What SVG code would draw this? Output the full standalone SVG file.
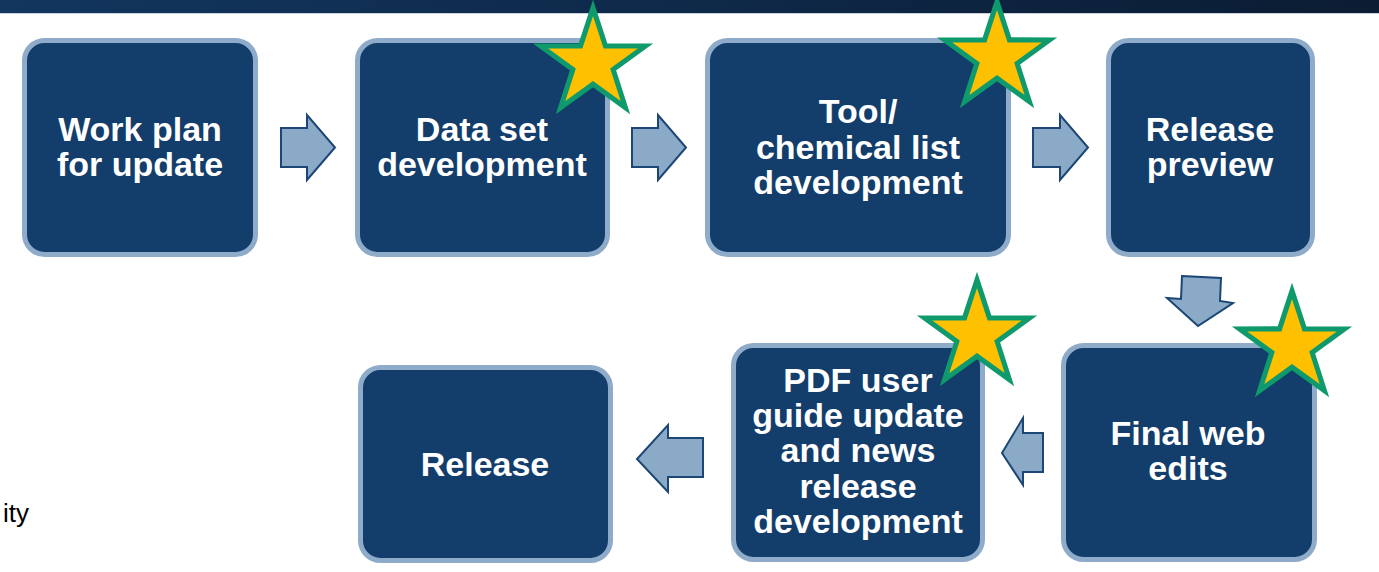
<svg xmlns="http://www.w3.org/2000/svg" width="1379" height="572" viewBox="0 0 1379 572">
<defs>
<linearGradient id="hdr" x1="0" y1="0" x2="1" y2="0">
<stop offset="0" stop-color="#12365f"/>
<stop offset="1" stop-color="#0b1c33"/>
</linearGradient>
<path id="star" d="M0,-52 L11.76,-16.18 L49.45,-16.07 L19.02,6.18 L30.56,42.07 L0,20 L-30.56,42.07 L-19.02,6.18 L-49.45,-16.07 L-11.76,-16.18 Z"/>
</defs>
<style>
.box{fill:#133d6b;stroke:#8eabc9;stroke-width:5}
.lbl{fill:#ffffff;font-family:"Liberation Sans",Arial,sans-serif;font-weight:bold;font-size:34px;text-anchor:middle}
.arr{fill:#8aaac8;stroke:#1c4675;stroke-width:2;stroke-linejoin:miter}
.star{fill:#ffc000;stroke:#0e9a6c;stroke-width:4.8;stroke-miterlimit:10}
</style>
<rect x="0" y="0" width="1379" height="13" fill="url(#hdr)"/>
<rect x="0" y="13" width="1379" height="1" fill="#c9d2dc"/>
<text x="3" y="522" font-family="Liberation Sans, Arial, sans-serif" font-size="26" fill="#000000">ity</text>

<g id="connectors">
<polygon class="arr" points="281,128 307,128 307,115 335,147.5 307,180 307,167 281,167"/>
<polygon class="arr" points="632,128 658,128 658,115 686,147.5 658,180 658,167 632,167"/>
<polygon class="arr" points="1033,128 1060,128 1060,115 1088,147.5 1060,180 1060,167 1033,167"/>
<polygon class="arr" points="1182,276 1221,278 1220,301 1233,303 1198,326 1167,298 1181,299"/>
<polygon class="arr" points="1043,433 1023,433 1023,418 1002,453 1023,485 1023,472 1043,472"/>
<polygon class="arr" points="703,438 668,438 668,425 637,459 668,492 668,477 703,477"/>
</g>

<g id="node-work-plan">
<rect class="box" x="24.5" y="40.5" width="231" height="214" rx="20"/>
<text class="lbl" x="140" y="141">Work plan</text>
<text class="lbl" x="140" y="176">for update</text>
</g>
<g id="node-data-set">
<rect class="box" x="357.5" y="40.5" width="250" height="214" rx="20"/>
<text class="lbl" x="482" y="141">Data set</text>
<text class="lbl" x="482" y="176">development</text>
</g>
<g id="node-tool">
<rect class="box" x="707.5" y="40.5" width="301" height="214" rx="20"/>
<text class="lbl" x="858" y="123">Tool/</text>
<text class="lbl" x="858" y="159">chemical list</text>
<text class="lbl" x="858" y="194">development</text>
</g>
<g id="node-release-preview">
<rect class="box" x="1108.5" y="40.5" width="204" height="214" rx="20"/>
<text class="lbl" x="1210" y="141">Release</text>
<text class="lbl" x="1210" y="176">preview</text>
</g>
<g id="node-final-web">
<rect class="box" x="1063.5" y="345.5" width="251" height="214" rx="20"/>
<text class="lbl" x="1188" y="445">Final web</text>
<text class="lbl" x="1188" y="480">edits</text>
</g>
<g id="node-pdf">
<rect class="box" x="733.5" y="345.5" width="249" height="214" rx="20"/>
<text class="lbl" x="858" y="392">PDF user</text>
<text class="lbl" x="858" y="427">guide update</text>
<text class="lbl" x="858" y="462">and news</text>
<text class="lbl" x="858" y="498">release</text>
<text class="lbl" x="858" y="533">development</text>
</g>
<g id="node-release">
<rect class="box" x="360.5" y="367.5" width="250" height="193" rx="20"/>
<text class="lbl" x="485" y="476">Release</text>
</g>

<g id="stars">
<use href="#star" class="star" transform="translate(593,63) scale(1.06)"/>
<use href="#star" class="star" transform="translate(997,57) scale(1.06)"/>
<use href="#star" class="star" transform="translate(977,335) scale(1.06)"/>
<use href="#star" class="star" transform="translate(1292,346) scale(1.06)"/>
</g>
</svg>
